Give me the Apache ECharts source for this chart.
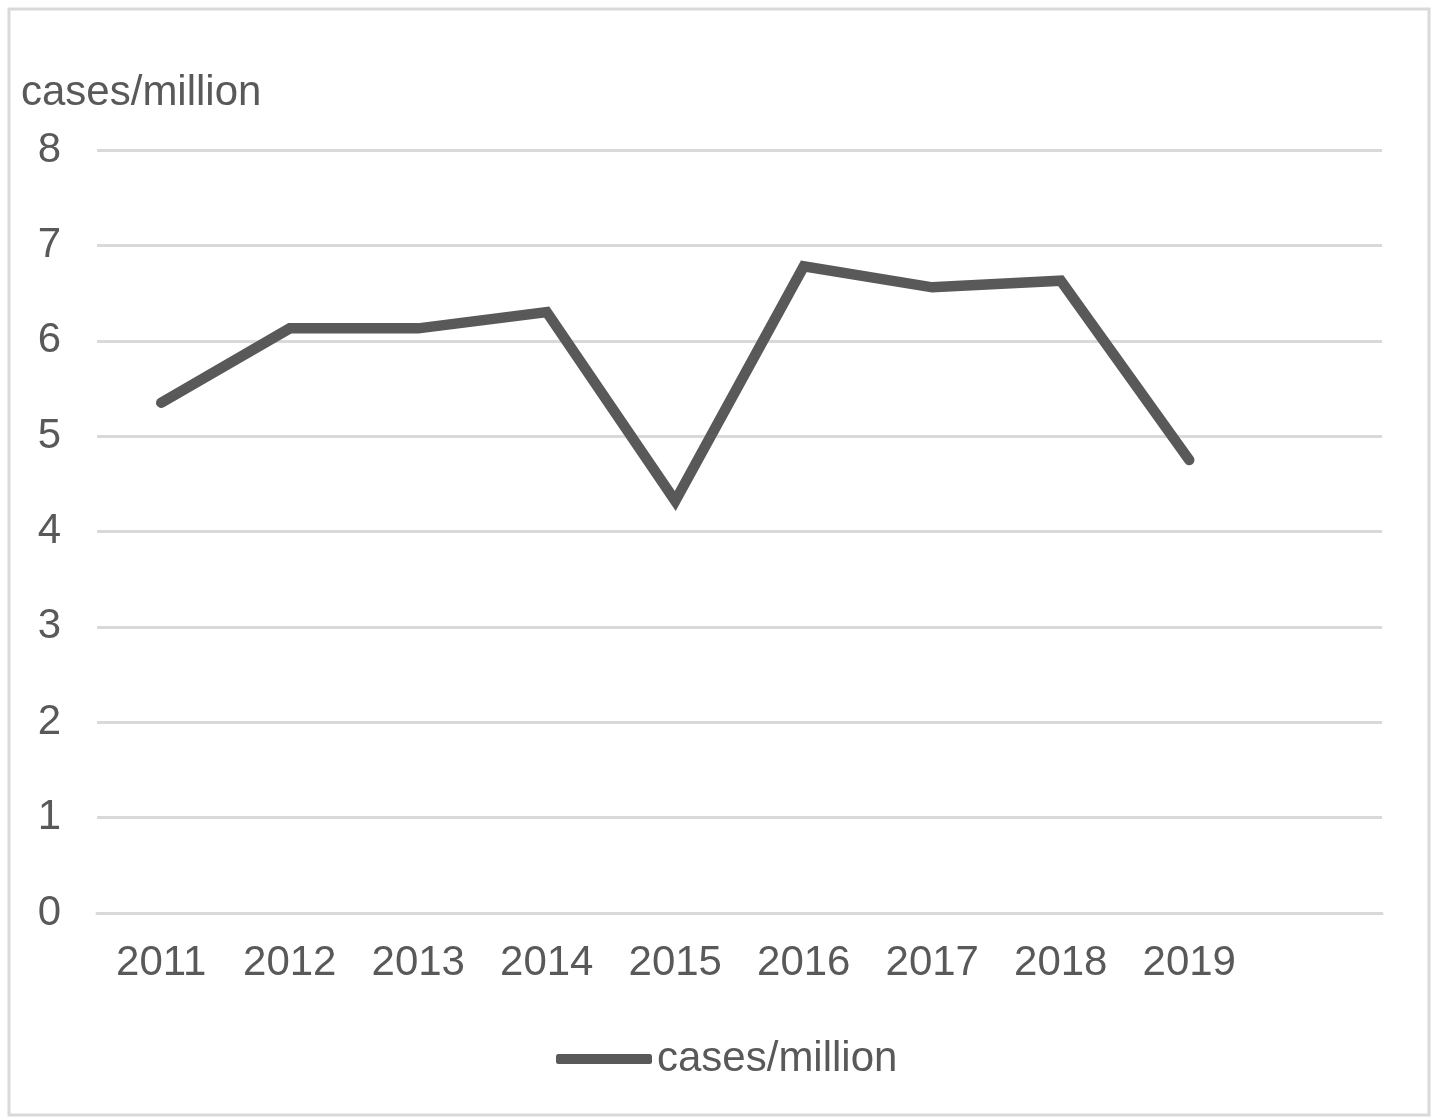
<!DOCTYPE html>
<html>
<head>
<meta charset="utf-8">
<title>cases/million</title>
<script src="https://cdn.jsdelivr.net/npm/echarts@6/dist/echarts.min.js"></script>
<style>
  html, body { margin: 0; padding: 0; background: #ffffff; }
  #chart { width: 1438px; height: 1119px; }
</style>
</head>
<body>
<div id="chart"></div>
<script>
// Years on the category axis (the trailing blank slot keeps the spacing of a 10-slot axis)
const years = ['2011', '2012', '2013', '2014', '2015', '2016', '2017', '2018', '2019', ''];
// Incidence, cases per million
const casesPerMillion = [5.35, 6.13, 6.13, 6.30, 4.32, 6.78, 6.56, 6.63, 4.75];
const seriesName = 'cases/million';
const yTicks = { min: 0, max: 8, interval: 1 };

const textColor = '#595959';
const gridColor = '#d9d9d9';
const fontFamily = '"Liberation Sans", Arial, sans-serif';

const chart = echarts.init(document.getElementById('chart'), null, { renderer: 'canvas' });

chart.setOption({
  backgroundColor: '#ffffff',
  animation: false,
  title: {
    text: 'cases/million',
    left: 21,
    top: 72,
    padding: 0,
    textStyle: { color: textColor, fontSize: 42, fontWeight: 'normal', fontFamily: fontFamily }
  },
  graphic: [{
    type: 'rect',
    shape: { x: 9, y: 9, width: 1420, height: 1106 },
    style: { fill: 'none', stroke: gridColor, lineWidth: 3 },
    silent: true
  }],
  grid: { left: 97, right: 56, top: 150, bottom: 206, containLabel: false },
  legend: {
    left: 551,
    top: 1033,
    itemWidth: 96,
    itemHeight: 10,
    icon: 'roundRect',
    textStyle: { color: textColor, fontSize: 42, fontFamily: fontFamily, padding: [0, 0, 0, 0] },
    data: [seriesName]
  },
  xAxis: {
    type: 'category',
    data: years,
    boundaryGap: true,
    axisLine: { show: true, lineStyle: { color: gridColor, width: 3 } },
    axisTick: { show: false },
    axisLabel: { color: textColor, fontSize: 42, fontFamily: fontFamily, margin: 29, interval: 0 },
    splitLine: { show: false }
  },
  yAxis: {
    type: 'value',
    min: yTicks.min,
    max: yTicks.max,
    interval: yTicks.interval,
    axisLine: { show: false },
    axisTick: { show: false },
    axisLabel: { color: textColor, fontSize: 42, fontFamily: fontFamily, margin: 36 },
    splitLine: { show: true, lineStyle: { color: gridColor, width: 3 } }
  },
  series: [{
    name: seriesName,
    type: 'line',
    data: casesPerMillion,
    showSymbol: false,
    symbol: 'none',
    itemStyle: { color: textColor },
    lineStyle: { color: textColor, width: 10.5, cap: 'round', join: 'miter' }
  }]
});
</script>
</body>
</html>
